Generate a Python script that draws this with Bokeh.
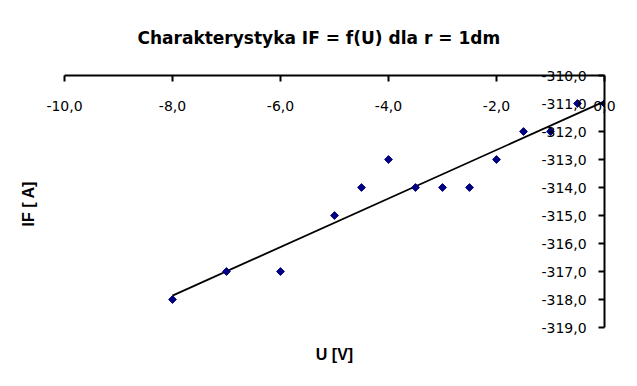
import math
import numpy as np
from bokeh.plotting import figure
from bokeh.models import (LinearAxis, FixedTicker, CustomJSTickFormatter, Range1d)
from bokeh.embed import file_html
from bokeh.resources import INLINE

u_values = [-8.0, -7.0, -6.0, -5.0, -4.5, -4.0, -3.5, -3.0, -2.5, -2.0, -1.5, -1.0, -0.5, 0.0]
if_values = [-318.0, -317.0, -317.0, -315.0, -314.0, -313.0, -314.0, -314.0, -314.0,
             -313.0, -312.0, -312.0, -311.0, -311.0]
x_ticks = [-10, -8, -6, -4, -2, 0]
y_ticks = [-310, -311, -312, -313, -314, -315, -316, -317, -318, -319]

TICK_FONT = "DejaVu Sans"
LABEL_FONT = "Liberation Sans"

p = figure(width=637, height=386, output_backend="svg", toolbar_location=None,
           x_axis_location=None, y_axis_location=None,
           x_range=Range1d(-10, 0), y_range=Range1d(-319, -310),
           min_border_left=64, min_border_right=33, min_border_top=75, min_border_bottom=59)
p.outline_line_color = None
p.xgrid.visible = False
p.ygrid.visible = False
p.background_fill_color = "white"
p.border_fill_color = "white"

p.title.text = "Charakterystyka IF = f(U) dla r = 1dm"
p.title.align = "left"
p.title.offset = 73
p.title.standoff = 52
p.title.vertical_align = "top"
p.title.text_font = "DejaVu Sans"
p.title.text_font_size = "17px"
p.title.text_font_style = "bold"
p.title.text_color = "black"

fmt = CustomJSTickFormatter(code="return tick.toFixed(1).replace('.', ',');")

# top x axis (labels inside, below the line)
xa = LinearAxis(ticker=FixedTicker(ticks=x_ticks), formatter=fmt)
xa.major_tick_in = 6
xa.major_tick_out = 0
xa.minor_tick_in = 0
xa.minor_tick_out = 0
xa.axis_line_width = 2
xa.major_tick_line_width = 2
xa.major_label_standoff = -35
xa.major_label_text_font = TICK_FONT
xa.major_label_text_font_size = "14px"
xa.major_label_text_color = "black"
p.add_layout(xa, "above")

# right y axis (labels inside, left of the line)
ya = LinearAxis(ticker=FixedTicker(ticks=y_ticks), formatter=fmt)
ya.major_tick_in = 6
ya.major_tick_out = 0
ya.minor_tick_in = 0
ya.minor_tick_out = 0
ya.axis_line_width = 2
ya.major_tick_line_width = 2
ya.major_label_standoff = -63
ya.major_label_text_font = TICK_FONT
ya.major_label_text_font_size = "14px"
ya.major_label_text_color = "black"
p.add_layout(ya, "right")

# axis titles
bx = LinearAxis(ticker=FixedTicker(ticks=[]), axis_label="U [V]")
bx.axis_line_color = None
bx.major_tick_out = 0
bx.axis_label_standoff = 18
bx.axis_label_text_font = LABEL_FONT
bx.axis_label_text_font_size = "16px"
bx.axis_label_text_font_style = "bold"
bx.axis_label_text_color = "black"
p.add_layout(bx, "below")

ly = LinearAxis(ticker=FixedTicker(ticks=[]), axis_label="IF [  A]")
ly.axis_line_color = None
ly.major_tick_out = 0
ly.axis_label_standoff = 28
ly.axis_label_text_font = LABEL_FONT
ly.axis_label_text_font_size = "16px"
ly.axis_label_text_font_style = "bold"
ly.axis_label_text_color = "black"
p.add_layout(ly, "left")

# trend line (linear fit)
coef = np.polyfit(u_values, if_values, 1)
xs = [min(u_values), max(u_values)]
p.line(xs, [coef[0] * x + coef[1] for x in xs], line_color="black", line_width=1.8)

p.scatter(u_values, if_values, marker="square", angle=math.pi / 4, size=5.5,
          fill_color="#000080", line_color="#000080", line_width=1)

open("out.html", "w").write(file_html(p, INLINE))
